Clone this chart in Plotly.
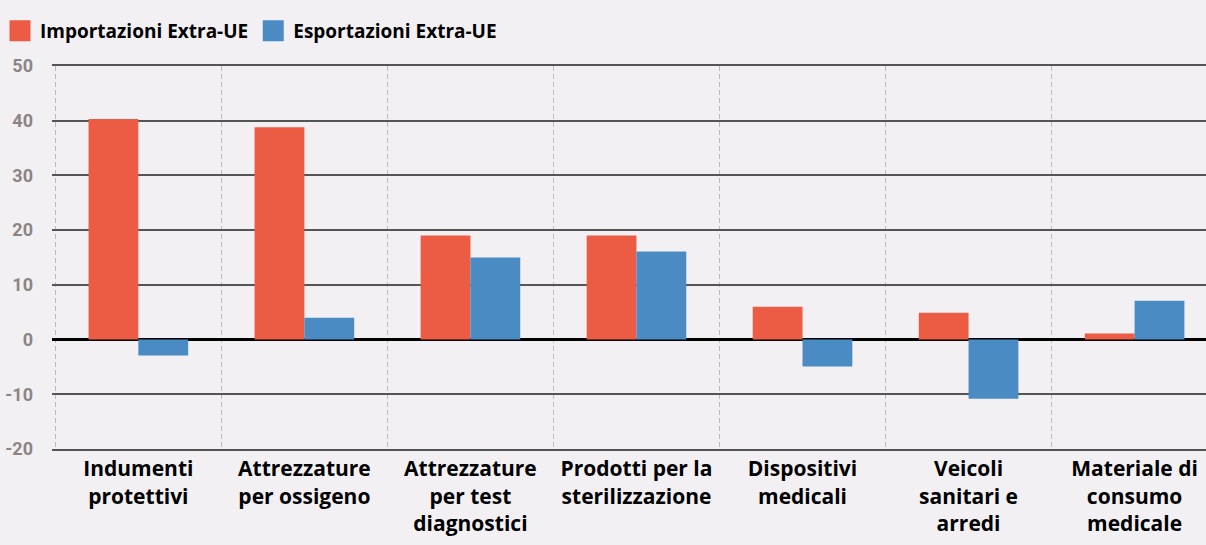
import plotly.graph_objects as go

categories = [
    "Indumenti<br>protettivi",
    "Attrezzature<br>per ossigeno",
    "Attrezzature<br>per test<br>diagnostici",
    "Prodotti per la<br>sterilizzazione",
    "Dispositivi<br>medicali",
    "Veicoli<br>sanitari e<br>arredi",
    "Materiale di<br>consumo<br>medicale",
]
importazioni = [40.3, 38.8, 19.0, 19.0, 6.0, 4.9, 1.1]
esportazioni = [-2.9, 4.0, 15.0, 16.1, -4.9, -10.8, 7.1]
series_names = ["Importazioni Extra-UE", "Esportazioni Extra-UE"]
colors = ["#ec5c44", "#4b8bc4"]
y_ticks = [-20, -10, 0, 10, 20, 30, 40, 50]
y_tick_labels = ["-20", "-10", "0", "10", "20", "30", "40", "50"]

fig = go.Figure()
for name, vals, col in zip(series_names, [importazioni, esportazioni], colors):
    fig.add_trace(go.Bar(x=categories, y=vals, name=name, marker_color=col,
                         marker_line_width=0, showlegend=False))
for name, col in zip(series_names, colors):
    fig.add_trace(go.Scatter(x=[None], y=[None], mode="markers", name=name,
                             marker=dict(symbol="square", size=16, color=col,
                                         line=dict(color=col, width=5))))

fig.update_layout(
    width=1206, height=545,
    paper_bgcolor="#f2f0f3", plot_bgcolor="#f2f0f3",
    margin=dict(l=52, r=0, t=66, b=96),
    barmode="group", bargap=0.4, bargroupgap=0,
    font=dict(family="Open Sans", color="#000"),
    legend=dict(orientation="h", xref="container", yref="container",
                x=0.0, y=0.978, xanchor="left", yanchor="top",
                font=dict(family="Open Sans", size=19, color="#000", weight="bold"),
                itemwidth=30, bgcolor="rgba(0,0,0,0)"),
)
fig.update_xaxes(
    type="category", range=[-0.52, 6.43], tickson="boundaries",
    showgrid=True, gridcolor="#bdbbbd", griddash="5px,3px", gridwidth=1,
    ticks="", showline=True, mirror=True, linecolor="#555555", linewidth=2,
    tickfont=dict(family="Open Sans", size=21, color="#000", weight="bold"),
)
fig.update_yaxes(
    range=[-20, 50], tickvals=y_ticks, ticktext=y_tick_labels,
    showgrid=True, gridcolor="#555555", gridwidth=2,
    zeroline=True, zerolinecolor="#000000", zerolinewidth=2.5,
    tickfont=dict(family="Roboto", size=18, color="#8c8585", weight="bold"),
    ticks="", ticklabelstandoff=18,
)
fig.write_html("out.html", config={"displayModeBar": False},
               post_script="document.body.style.margin='0';")
